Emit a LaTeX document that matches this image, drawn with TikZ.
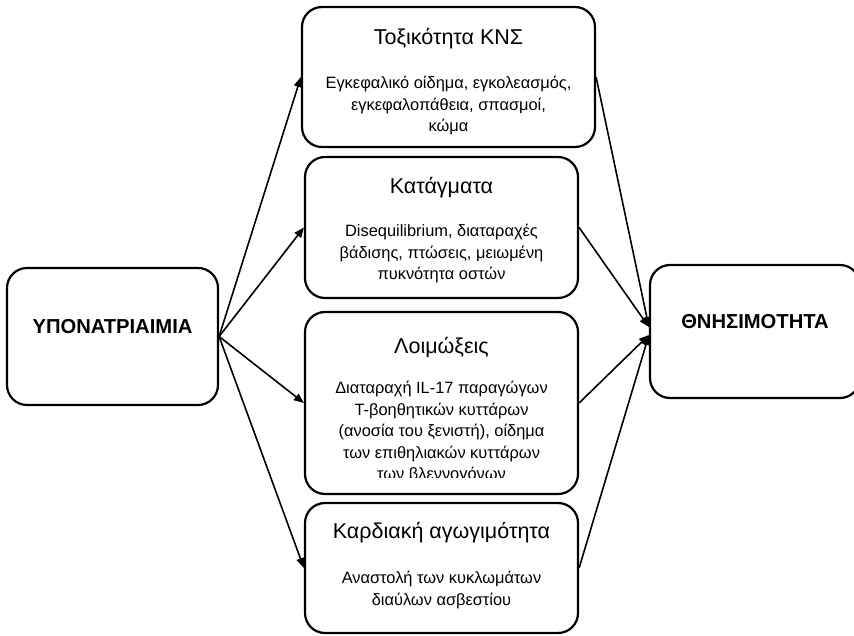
\documentclass[tikz,border=0pt]{standalone}
\usepackage{fontspec}
\setmainfont{Liberation Sans}
\usetikzlibrary{arrows.meta}
\newcommand{\boxtitle}[1]{{\fontsize{21.5}{24}\selectfont #1}}

\begin{document}
\begin{tikzpicture}[x=1pt,y=-1pt]
\tikzstyle{endbox} = [draw, line width=2.2pt, rounded corners=20pt, minimum width=211pt, minimum height=137pt, inner sep=0pt]
\tikzstyle{midbox} = [draw, line width=2.2pt, rounded corners=20pt, minimum width=273pt, inner sep=0pt]
\tikzstyle{midtxt} = [inner sep=0pt, anchor=north, align=center, font=\fontsize{16.4}{21.5}\selectfont]
\tikzstyle{endtxt} = [inner sep=0pt, font=\fontsize{20.2}{24}\selectfont\bfseries]
\tikzstyle{myarrow} = [line width=1.6pt, -{Triangle[length=10pt,width=8pt]}]
\useasboundingbox (0,0) rectangle (854,636);
	% cause and outcome
	\node[endbox] (hypo) at (112.5,336.5) {};
	\node[endtxt] (hypotxt) at ([yshift=9.5pt]hypo.center) {ΥΠΟΝΑΤΡΙΑΙΜΙΑ};
	\node[endbox, minimum width=210pt, minimum height=133pt] (thn) at (755,331.5) {};
	\node[endtxt] (thntxt) at ([yshift=9.5pt]thn.center) {ΘΝΗΣΙΜΟΤΗΤΑ};
	% complications
	\node[midbox, minimum width=293pt, minimum height=140pt] (cns) at (448.5,77) {};
	\node[midtxt] (cnstxt) at ([yshift=-22pt]cns.north)
		{\boxtitle{Τοξικότητα ΚΝΣ}\\[23pt]Εγκεφαλικό οίδημα, εγκολεασμός,\\εγκεφαλοπάθεια, σπασμοί,\\κώμα};
	\node[midbox, minimum height=141pt] (frac) at (441.5,227.5) {};
	\node[midtxt] (fractxt) at ([yshift=-21pt]frac.north)
		{\boxtitle{Κατάγματα}\\[22pt]Disequilibrium, διαταραχές\\βάδισης, πτώσεις, μειωμένη\\πυκνότητα οστών};
	\node[midbox, minimum height=182pt] (inf) at (441.5,403) {};
	\begin{scope}
	\clip (inf.north west) rectangle ([yshift=18pt]inf.south east);
	\node[midtxt] (inftxt) at ([yshift=-26pt]inf.north)
		{\boxtitle{Λοιμώξεις}\\[19pt]Διαταραχή IL-17 παραγώγων\\T-βοηθητικών κυττάρων\\(ανοσία του ξενιστή), οίδημα\\των επιθηλιακών κυττάρων\\των βλεννογόνων};
	\end{scope}
	\node[midbox, minimum height=130pt] (card) at (441.5,568) {};
	\node[midtxt] (cardtxt) at ([yshift=-20pt]card.north)
		{\boxtitle{Καρδιακή αγωγιμότητα}\\[24pt]Αναστολή των κυκλωμάτων\\διαύλων ασβεστίου};
	% arrows
	\foreach \b in {cns,frac,inf,card}
		\draw[myarrow] (hypo.east) -- (\b.west);
	\draw[myarrow] (cns.east) -- ([yshift=4.5pt]thn.west);
	\draw[myarrow] (frac.east) -- ([yshift=4.5pt]thn.west);
	\draw[myarrow] (inf.east) -- ([yshift=-3.5pt]thn.west);
	\draw[myarrow] (card.east) -- ([yshift=-3.5pt]thn.west);
\end{tikzpicture}
\end{document}
